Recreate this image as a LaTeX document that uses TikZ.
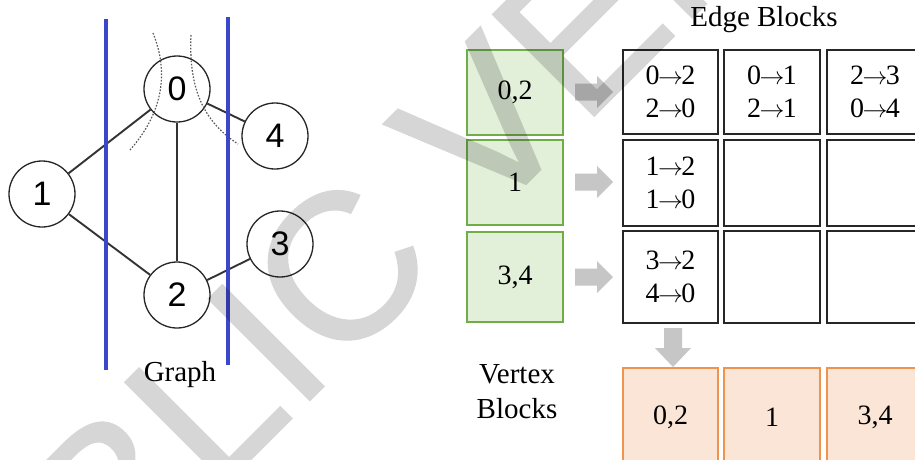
\documentclass[tikz,border=0pt]{standalone}
\usepackage{fontspec}
\setmainfont{Liberation Serif}
\newfontfamily\digitfont{Liberation Sans}
\newfontfamily\markfont[FakeBold=1]{Liberation Sans}
% edge "a -> b" with a tight arrow
\newcommand\edgeto[2]{#1\kern-1.5pt$\rightarrow$\kern-1.5pt#2}
\begin{document}
\begin{tikzpicture}[x=1pt,y=-1pt,
  vertex/.style={circle,draw=black!85,line width=1.3pt,fill=white,minimum size=66pt,inner sep=0pt,
    font=\digitfont\fontsize{34}{34}\selectfont},
  gedge/.style={draw=black!80,line width=1.9pt},
  cutline/.style={draw=cutblue,line width=4pt},
  cutcurve/.style={draw=black!65,line width=1.2pt,dash pattern=on 1.6pt off 1.6pt},
  lbl/.style={font=\fontsize{29}{33}\selectfont,inner sep=0pt},
  vblock/.style={draw=vgreen,fill=vgreenfill,line width=1.5pt,inner sep=0pt,
    font=\fontsize{28}{33}\selectfont},
  eblock/.style={draw=black!85,line width=1.8pt,inner sep=0pt,align=center,
    font=\fontsize{28}{33}\selectfont},
  oblock/.style={draw=vorange,fill=vorangefill,line width=1.5pt,inner sep=0pt,
    font=\fontsize{28}{33}\selectfont},
  flowarrow/.style={fill=arrowgrey},
]
\definecolor{cutblue}{HTML}{3C46C8}
\definecolor{vgreen}{HTML}{70AD47}
\definecolor{vgreenfill}{HTML}{E2F0D9}
\definecolor{vorange}{HTML}{F0934F}
\definecolor{vorangefill}{HTML}{FBE5D6}
\definecolor{arrowgrey}{HTML}{C6C6C6}

\useasboundingbox (0,0) rectangle (915,459);
\fill[white] (0,0) rectangle (915,459);

% ---------- graph ----------
\node[vertex] (n0) at (177,89) {0};
\node[vertex] (n1) at (42,194) {1};
\node[vertex] (n2) at (177,295) {2};
\node[vertex] (n3) at (280,244) {3};
\node[vertex] (n4) at (275,136) {4};

\draw[gedge] (n1) -- (n0);
\draw[gedge] (n1) -- (n2);
\draw[gedge] (n0) -- (n2);
\draw[gedge] (n0) -- (n4);
\draw[gedge] (n2) -- (n3);

% cut curves around vertex 0
\draw[cutcurve] (153,33) .. controls (168,70) and (165,110) .. (130,150);
\draw[cutcurve] (191,35) .. controls (189,80) and (198,118) .. (238,144);

% partition lines
\coordinate (pl1) at (106,19);
\coordinate (pl2) at (106,370);
\coordinate (pr1) at (228,17);
\coordinate (pr2) at (228,365);
\draw[cutline] (pl1) -- (pl2);
\draw[cutline] (pr1) -- (pr2);

\node[lbl] (graphlbl) at (180,375) {Graph};

% ---------- blocks ----------
\node[lbl] (edgelbl) at (764,20) {Edge Blocks};
\node[lbl,align=center,font=\fontsize{29}{35}\selectfont] (vertlbl) at (517,392) {Vertex\\Blocks};

\node[vblock,minimum width=96pt,minimum height=85pt] (g1) at (515,92.5) {0,2};
\node[vblock,minimum width=96pt,minimum height=85pt] (g2) at (515,182.5) {1};
\node[vblock,minimum width=96pt,minimum height=90pt] (g3) at (515,277) {3,4};

\node[eblock,minimum width=95pt,minimum height=84pt] (e11) at (670.5,92) {\edgeto02\\\edgeto20};
\node[eblock,minimum width=96pt,minimum height=84pt] (e12) at (772,92) {\edgeto01\\\edgeto21};
\node[eblock,minimum width=96pt,minimum height=84pt] (e13) at (875,92) {\edgeto23\\\edgeto04};
\node[eblock,minimum width=95pt,minimum height=86pt] (e21) at (670.5,183) {\edgeto12\\\edgeto10};
\node[eblock,minimum width=96pt,minimum height=86pt] (e22) at (772,183) {};
\node[eblock,minimum width=96pt,minimum height=86pt] (e23) at (875,183) {};
\node[eblock,minimum width=95pt,minimum height=92pt] (e31) at (670.5,277) {\edgeto32\\\edgeto40};
\node[eblock,minimum width=96pt,minimum height=92pt] (e32) at (772,277) {};
\node[eblock,minimum width=96pt,minimum height=92pt] (e33) at (875,277) {};

\node[oblock,minimum width=95pt,minimum height=98pt] (o1) at (670.5,417) {0,2};
\node[oblock,minimum width=96pt,minimum height=98pt] (o2) at (772,417) {1};
\node[oblock,minimum width=96pt,minimum height=98pt] (o3) at (875,417) {3,4};

% block arrows from vertex blocks into edge rows
\foreach \y in {92,182,277}{
  \fill[flowarrow] (575,\y-8.5) -- (597,\y-8.5) -- (597,\y-16) -- (613,\y)
    -- (597,\y+16) -- (597,\y+8.5) -- (575,\y+8.5) -- cycle;
}
% block arrow from edge column down to the updated vertex block
\fill[flowarrow] (664,328) -- (682,328) -- (682,348) -- (691,348) -- (673,367)
  -- (655,348) -- (664,348) -- cycle;

% ---------- watermark ----------
\begin{scope}[transparency group,opacity=0.16]
\node[rotate=45,anchor=base west,inner sep=0pt,text=black,
  font=\markfont\fontsize{208}{208}\selectfont] (wm) at (-88,798) {PUBLIC VERSION};
\end{scope}
\end{tikzpicture}
\end{document}
